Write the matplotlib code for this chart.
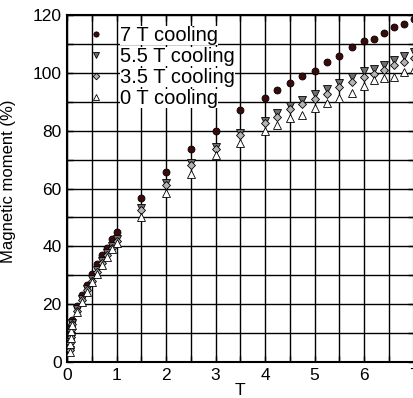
import matplotlib
matplotlib.use("Agg")
import matplotlib.pyplot as plt
from matplotlib.ticker import MultipleLocator

plt.rcParams['font.family'] = ['Liberation Sans', 'DejaVu Sans']

# field (T) and magnetic moment (%) for each cooling field
field = [0.05, 0.06, 0.07, 0.08, 0.1, 0.2, 0.3, 0.4, 0.5, 0.6, 0.7, 0.8, 0.9, 1.0,
         1.5, 2.0, 2.5, 3.0, 3.5, 4.0, 4.25, 4.5, 4.75, 5.0, 5.25, 5.5, 5.75,
         6.0, 6.2, 6.4, 6.6, 6.8, 7.0]

m_7T = [4.8, 7.5, 9.8, 12.2, 14.5, 19.5, 23.2, 26.8, 30.5, 33.8, 36.9, 39.6, 42.6, 44.9,
        56.8, 65.8, 73.6, 80.0, 87.2, 91.3, 94.0, 96.5, 98.8, 100.7, 103.8, 105.9, 108.8,
        110.9, 111.8, 113.9, 115.9, 116.9, 118.8]
m_55T = [4.2, 6.8, 9.0, 11.2, 13.4, 18.2, 21.8, 25.2, 28.6, 31.8, 34.8, 37.6, 40.2, 42.4,
         53.1, 61.8, 68.7, 74.5, 79.1, 83.4, 86.0, 88.5, 90.6, 92.6, 94.6, 96.6, 98.6,
         100.6, 101.5, 102.7, 104.6, 105.8, 107.3]
m_35T = [4.0, 6.6, 8.8, 11.0, 13.2, 17.8, 21.4, 24.8, 28.1, 31.2, 34.2, 37.0, 39.6, 41.8,
         52.6, 61.2, 68.1, 73.7, 78.5, 82.7, 84.8, 87.4, 89.2, 91.0, 92.8, 95.0, 97.0,
         98.7, 99.8, 101.0, 102.7, 103.8, 105.0]
m_0T = [3.6, 6.2, 8.4, 10.6, 12.8, 17.2, 20.8, 24.2, 27.5, 30.6, 33.6, 36.4, 39.0, 41.0,
        50.2, 58.5, 65.2, 71.6, 75.6, 80.0, 81.9, 84.3, 85.5, 87.7, 89.5, 91.2, 92.9,
        95.5, 97.5, 98.1, 98.7, 100.4, 101.5]

labels = ['7 T cooling', '5.5 T cooling', '3.5 T cooling', '0 T cooling']

fig = plt.figure(figsize=(4.14, 3.98), dpi=100)
ax = fig.add_axes([0.162, 0.0905, 0.837, 0.8715])

ax.plot(field, m_7T, 'o', ms=5, mfc='#3d0a0a', mec='black', mew=0.6, label=labels[0], zorder=5)
ax.plot(field, m_55T, 'v', ms=6, mfc='#6e6e6e', mec='black', mew=0.6, label=labels[1], zorder=5)
ax.plot(field, m_35T, 'D', ms=4.5, mfc='#b4b4b4', mec='black', mew=0.6, label=labels[2], zorder=5)
ax.plot(field, m_0T, '^', ms=6, mfc='white', mec='black', mew=0.6, label=labels[3], zorder=5)

ax.set_xlim(0, 7)
ax.set_ylim(0, 120)
ax.xaxis.set_major_locator(MultipleLocator(1))
ax.xaxis.set_minor_locator(MultipleLocator(0.5))
ax.yaxis.set_major_locator(MultipleLocator(20))
ax.yaxis.set_minor_locator(MultipleLocator(10))
ax.grid(True, which='both', color='black', lw=1.0)
ax.set_axisbelow(True)
ax.tick_params(which='both', direction='in', length=4, width=1, top=True, right=True,
               labelsize=12.5, pad=4)
for s in ax.spines.values():
    s.set_linewidth(1.5)

ax.set_xlabel('T', fontsize=12.5, labelpad=0)
ax.set_ylabel('Magnetic moment (%)', fontsize=12)
ax.yaxis.set_label_coords(-0.146, 0.52)

leg = ax.legend(loc='upper left', bbox_to_anchor=(0.03, 0.993), frameon=False,
                fontsize=14.5, handlelength=1.0, handletextpad=0.7,
                labelspacing=0.1, borderaxespad=0, markerscale=0.75)
for t in leg.get_texts():
    t.set_bbox(dict(facecolor='white', edgecolor='none', pad=0))

fig.savefig('out.png', dpi=100)
